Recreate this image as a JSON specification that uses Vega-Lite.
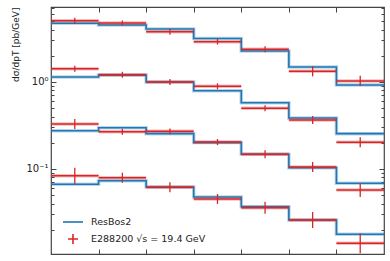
{
  "$schema": "https://vega.github.io/schema/vega-lite/v6.json",
  "width": 333,
  "height": 247,
  "autosize": {"type": "none"},
  "padding": {"left": 51, "top": 7, "right": 6, "bottom": 7},
  "background": "white",
  "config": {
    "view": {"stroke": "#444", "strokeWidth": 1.2},
    "font": "DejaVu Sans",
    "axis": {"grid": false, "domain": false, "tickColor": "#444", "tickWidth": 1, "labelFont": "DejaVu Sans", "titleFont": "DejaVu Sans", "labelColor": "#222", "titleColor": "#222", "titleFontWeight": "normal"}
  },
  "datasets": {
    "model": [
      {"s": 1, "x": 0, "v": 4.73}, {"s": 1, "x": 1, "v": 4.52}, {"s": 1, "x": 2, "v": 4.07}, {"s": 1, "x": 3, "v": 3.16}, {"s": 1, "x": 4, "v": 2.27}, {"s": 1, "x": 5, "v": 1.49}, {"s": 1, "x": 6, "v": 0.924}, {"s": 1, "x": 7, "v": 0.924},
      {"s": 2, "x": 0, "v": 1.14}, {"s": 2, "x": 1, "v": 1.2}, {"s": 2, "x": 2, "v": 1.0}, {"s": 2, "x": 3, "v": 0.794}, {"s": 2, "x": 4, "v": 0.578}, {"s": 2, "x": 5, "v": 0.386}, {"s": 2, "x": 6, "v": 0.255}, {"s": 2, "x": 7, "v": 0.255},
      {"s": 3, "x": 0, "v": 0.275}, {"s": 3, "x": 1, "v": 0.298}, {"s": 3, "x": 2, "v": 0.255}, {"s": 3, "x": 3, "v": 0.201}, {"s": 3, "x": 4, "v": 0.1476}, {"s": 3, "x": 5, "v": 0.1035}, {"s": 3, "x": 6, "v": 0.0685}, {"s": 3, "x": 7, "v": 0.0685},
      {"s": 4, "x": 0, "v": 0.0667}, {"s": 4, "x": 1, "v": 0.0734}, {"s": 4, "x": 2, "v": 0.0621}, {"s": 4, "x": 3, "v": 0.0477}, {"s": 4, "x": 4, "v": 0.0369}, {"s": 4, "x": 5, "v": 0.0259}, {"s": 4, "x": 6, "v": 0.01775}, {"s": 4, "x": 7, "v": 0.01775}
    ],
    "data": [
      {"s": 1, "lo": 0, "hi": 1, "mid": 0.5, "v": 5.07, "elo": 4.68, "ehi": 5.49},
      {"s": 1, "lo": 1, "hi": 2, "mid": 1.5, "v": 4.77, "elo": 4.47, "ehi": 5.09},
      {"s": 1, "lo": 2, "hi": 3, "mid": 2.5, "v": 3.79, "elo": 3.5, "ehi": 4.1},
      {"s": 1, "lo": 3, "hi": 4, "mid": 3.5, "v": 2.91, "elo": 2.69, "ehi": 3.15},
      {"s": 1, "lo": 4, "hi": 5, "mid": 4.5, "v": 2.38, "elo": 2.2, "ehi": 2.58},
      {"s": 1, "lo": 5, "hi": 6, "mid": 5.5, "v": 1.33, "elo": 1.16, "ehi": 1.52},
      {"s": 1, "lo": 6, "hi": 7, "mid": 6.5, "v": 1.03, "elo": 0.9, "ehi": 1.18},
      {"s": 2, "lo": 0, "hi": 1, "mid": 0.5, "v": 1.42, "elo": 1.31, "ehi": 1.54},
      {"s": 2, "lo": 1, "hi": 2, "mid": 1.5, "v": 1.21, "elo": 1.12, "ehi": 1.31},
      {"s": 2, "lo": 2, "hi": 3, "mid": 2.5, "v": 1.0, "elo": 0.923, "ehi": 1.083},
      {"s": 2, "lo": 3, "hi": 4, "mid": 3.5, "v": 0.892, "elo": 0.824, "ehi": 0.966},
      {"s": 2, "lo": 4, "hi": 5, "mid": 4.5, "v": 0.499, "elo": 0.461, "ehi": 0.54},
      {"s": 2, "lo": 5, "hi": 6, "mid": 5.5, "v": 0.366, "elo": 0.329, "ehi": 0.407},
      {"s": 2, "lo": 6, "hi": 7, "mid": 6.5, "v": 0.203, "elo": 0.178, "ehi": 0.232},
      {"s": 3, "lo": 0, "hi": 1, "mid": 0.5, "v": 0.329, "elo": 0.288, "ehi": 0.376},
      {"s": 3, "lo": 1, "hi": 2, "mid": 1.5, "v": 0.268, "elo": 0.247, "ehi": 0.29},
      {"s": 3, "lo": 2, "hi": 3, "mid": 2.5, "v": 0.271, "elo": 0.25, "ehi": 0.293},
      {"s": 3, "lo": 3, "hi": 4, "mid": 3.5, "v": 0.204, "elo": 0.188, "ehi": 0.221},
      {"s": 3, "lo": 4, "hi": 5, "mid": 4.5, "v": 0.1476, "elo": 0.1327, "ehi": 0.164},
      {"s": 3, "lo": 5, "hi": 6, "mid": 5.5, "v": 0.1054, "elo": 0.0923, "ehi": 0.1204},
      {"s": 3, "lo": 6, "hi": 7, "mid": 6.5, "v": 0.0574, "elo": 0.0477, "ehi": 0.0691},
      {"s": 4, "lo": 0, "hi": 1, "mid": 0.5, "v": 0.0838, "elo": 0.0678, "ehi": 0.1036},
      {"s": 4, "lo": 1, "hi": 2, "mid": 1.5, "v": 0.0794, "elo": 0.0695, "ehi": 0.0907},
      {"s": 4, "lo": 2, "hi": 3, "mid": 2.5, "v": 0.0616, "elo": 0.0539, "ehi": 0.0703},
      {"s": 4, "lo": 3, "hi": 4, "mid": 3.5, "v": 0.0452, "elo": 0.0396, "ehi": 0.0516},
      {"s": 4, "lo": 4, "hi": 5, "mid": 4.5, "v": 0.0359, "elo": 0.0306, "ehi": 0.0421},
      {"s": 4, "lo": 5, "hi": 6, "mid": 5.5, "v": 0.0259, "elo": 0.021, "ehi": 0.032},
      {"s": 4, "lo": 6, "hi": 7, "mid": 6.5, "v": 0.014, "elo": 0.01074, "ehi": 0.01824}
    ]
  },
  "layer": [
    {
      "data": {"name": "model"},
      "mark": {"type": "line", "interpolate": "step-after", "strokeWidth": 3.5, "opacity": 0.3, "color": "#1f77b4"},
      "encoding": {
        "x": {"field": "x", "type": "quantitative", "scale": {"domain": [0, 7], "nice": false, "zero": false},
          "axis": {"orient": "bottom", "values": [1, 2, 3, 4, 5, 6], "labels": false, "tickSize": -5, "title": null}},
        "y": {"field": "v", "type": "quantitative", "scale": {"type": "log", "domain": [0.01054, 7.28], "nice": false},
          "axis": {"orient": "left", "values": [0.02, 0.03, 0.04, 0.05, 0.06, 0.07, 0.08, 0.09, 0.1, 0.2, 0.3, 0.4, 0.5, 0.6, 0.7, 0.8, 0.9, 1, 2, 3, 4, 5, 6, 7],
            "tickSize": {"condition": {"test": "datum.value === 1 || datum.value === 0.1", "value": -5}, "value": -3},
            "labelExpr": "datum.value === 1 ? '10⁰' : datum.value === 0.1 ? '10⁻¹' : ''",
            "labelFontSize": 10, "labelPadding": 8,
            "title": "dσ/dpT [pb/GeV]", "titleAnchor": "end", "titleFontSize": 9, "titlePadding": 5}},
        "detail": {"field": "s"}
      }
    },
    {
      "data": {"name": "model"},
      "mark": {"type": "line", "interpolate": "step-after", "strokeWidth": 1.6},
      "encoding": {
        "x": {"field": "x", "type": "quantitative",
          "axis": {"orient": "top", "values": [1, 2, 3, 4, 5, 6], "labels": false, "tickSize": -5, "title": null}},
        "y": {"field": "v", "type": "quantitative",
          "axis": {"orient": "right", "values": [0.02, 0.03, 0.04, 0.05, 0.06, 0.07, 0.08, 0.09, 0.1, 0.2, 0.3, 0.4, 0.5, 0.6, 0.7, 0.8, 0.9, 1, 2, 3, 4, 5, 6, 7],
            "tickSize": {"condition": {"test": "datum.value === 1 || datum.value === 0.1", "value": -5}, "value": -3},
            "labels": false, "title": null}},
        "detail": {"field": "s"},
        "color": {"datum": "ResBos2", "type": "nominal",
          "scale": {"domain": ["ResBos2", "E288200 √s = 19.4 GeV"], "range": ["#1f77b4", "#d62728"]},
          "legend": {"title": null, "orient": "none", "legendX": 11, "legendY": 204, "labelFontSize": 9.5, "labelFont": "DejaVu Sans", "labelColor": "#222",
            "symbolSize": 400, "rowPadding": 1, "labelOffset": 7, "symbolStrokeWidth": 1.6,
            "encode": {"symbols": {"update": {
              "shape": {"signal": "datum.label === 'ResBos2' ? 'stroke' : 'M-0.5,0H0.5M0,-0.5V0.5'"},
              "fill": {"value": "transparent"},
              "stroke": {"scale": "color", "field": "value"},
              "strokeWidth": {"value": 1.6}}}}}}
      }
    },
    {
      "data": {"name": "data"},
      "mark": {"type": "rule", "strokeWidth": 3.5, "opacity": 0.3, "color": "#d62728"},
      "encoding": {
        "x": {"field": "lo", "type": "quantitative", "axis": null},
        "x2": {"field": "hi"},
        "y": {"field": "v", "type": "quantitative", "axis": null}
      }
    },
    {
      "data": {"name": "data"},
      "mark": {"type": "rule", "strokeWidth": 1.5},
      "encoding": {
        "x": {"field": "lo", "type": "quantitative", "axis": null},
        "x2": {"field": "hi"},
        "y": {"field": "v", "type": "quantitative", "axis": null},
        "color": {"datum": "E288200 √s = 19.4 GeV", "type": "nominal"}
      }
    },
    {
      "data": {"name": "data"},
      "mark": {"type": "rule", "strokeWidth": 1.3},
      "encoding": {
        "x": {"field": "mid", "type": "quantitative", "axis": null},
        "y": {"field": "elo", "type": "quantitative", "axis": null},
        "y2": {"field": "ehi"},
        "color": {"datum": "E288200 √s = 19.4 GeV", "type": "nominal"}
      }
    }
  ],
  "resolve": {"axis": {"x": "independent", "y": "independent"}}
}
